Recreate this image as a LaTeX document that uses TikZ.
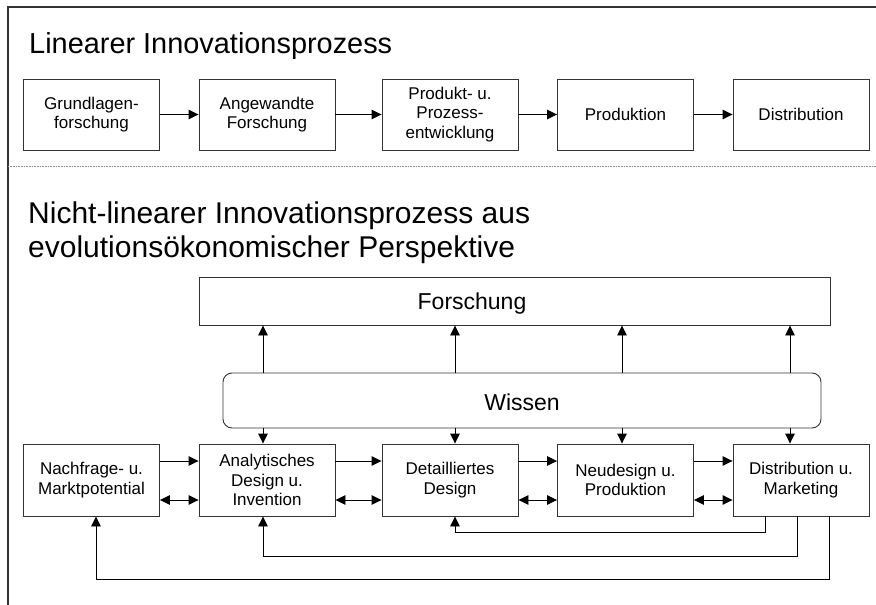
\documentclass[tikz,border=0pt]{standalone}
\usepackage{fontspec}
\setmainfont{Liberation Sans}
\usetikzlibrary{arrows.meta}
\begin{document}
\begin{tikzpicture}[x=1pt,y=-1pt,
  boxtext/.style={font=\fontsize{17}{19.5}\selectfont},
  stagebox/.style={draw=black!80, line width=0.9pt, minimum width=136pt, minimum height=71pt,
    inner sep=0pt, align=center, boxtext},
  tip/.style={-{Triangle[length=10pt,width=9.5pt]}},
  dtip/.style={{Triangle[length=10pt,width=9.5pt]}-{Triangle[length=10pt,width=9.5pt]}},
  link/.style={line width=0.9pt, black},
  title/.style={anchor=base west, inner sep=0pt, font=\fontsize{30}{34}\selectfont},
  bigtext/.style={font=\fontsize{23}{27}\selectfont},
]
\useasboundingbox (0,0) rectangle (876,605);

% frame and separator
\draw[line width=1.2pt, black!80] (876,7) -- (8,7) -- (8,605);
\draw[black!45, line width=0.8pt, dash pattern=on 0.8pt off 0.8pt] (8,166) -- (876,166);

% linear process
\node[title, font=\fontsize{28.9}{34}\selectfont] (t1) at (29,53) {Linearer Innovationsprozess};
\node[stagebox] (a1) at (91.5,114.5) {Grundlagen-\\forschung};
\node[stagebox] (a2) at (267,114.5) {Angewandte\\Forschung};
\node[stagebox] (a3) at (450,114.5) {Produkt- u.\\Prozess-\\entwicklung};
\node[stagebox] (a4) at (625.5,114.5) {Produktion};
\node[stagebox] (a5) at (801,114.5) {Distribution};
\foreach \p/\q in {a1/a2,a2/a3,a3/a4,a4/a5}
  \draw[link,tip] (\p) -- (\q);

% non-linear process
\node[title] (t2) at (28,223) {Nicht-linearer Innovationsprozess aus};
\node[title] (t3) at (28,257) {evolutionsökonomischer Perspektive};

\node[draw=black!80, line width=0.9pt, minimum width=631pt, minimum height=48pt] (fo) at (514.5,301) {};
\node[bigtext, anchor=base, inner sep=0pt] (fotext) at (472,309) {Forschung};
\node[draw=black!80, line width=0.9pt, rounded corners=9pt, minimum width=598pt, minimum height=55pt] (wi) at (522,400.5) {};
\node[bigtext, anchor=base, inner sep=0pt] (witext) at (522,410) {Wissen};

\node[stagebox, minimum height=72pt] (b1) at (91.5,480) {Nachfrage- u.\\Marktpotential};
\node[stagebox, minimum height=72pt] (b2) at (267,480) {Analytisches\\Design u.\\Invention};
\node[stagebox, minimum height=72pt] (b3) at (450,480) {Detailliertes\\Design};
\node[stagebox, minimum height=72pt] (b4) at (625.5,480) {Neudesign u.\\Produktion};
\node[stagebox, minimum height=72pt] (b5) at (801,480) {Distribution u.\\Marketing};

\foreach \p/\q in {b1/b2,b2/b3,b3/b4,b4/b5} {
  \draw[link,tip] ([yshift=19pt]\p.east) -- ([yshift=19pt]\q.west);
  \draw[link,dtip] ([yshift=-20pt]\p.east) -- ([yshift=-20pt]\q.west);
}

% exchange between knowledge, research and the stages
\coordinate (v1) at (263,0);
\coordinate (v2) at (455,0);
\coordinate (v3) at (622,0);
\coordinate (v4) at (790,0);
\foreach \v/\s in {v1/b2,v2/b3,v3/b4,v4/b5} {
  \draw[link,tip] (\v |- wi.north) -- (\v |- fo.south);
  \draw[link,tip] (\v |- wi.south) -- (\v |- \s.north);
}

% feedback loops from distribution and marketing
\coordinate (r1) at (765,532);
\coordinate (r2) at (797,556);
\coordinate (r3) at (829,579);
\coordinate (l1) at (455,0);
\coordinate (l2) at (263,0);
\coordinate (l3) at (96,0);
\draw[link,tip] (r1 |- b5.south) -- (r1) -- (l1 |- r1) -- (l1 |- b3.south);
\draw[link,tip] (r2 |- b5.south) -- (r2) -- (l2 |- r2) -- (l2 |- b2.south);
\draw[link,tip] (r3 |- b5.south) -- (r3) -- (l3 |- r3) -- (l3 |- b1.south);
\end{tikzpicture}
\end{document}
